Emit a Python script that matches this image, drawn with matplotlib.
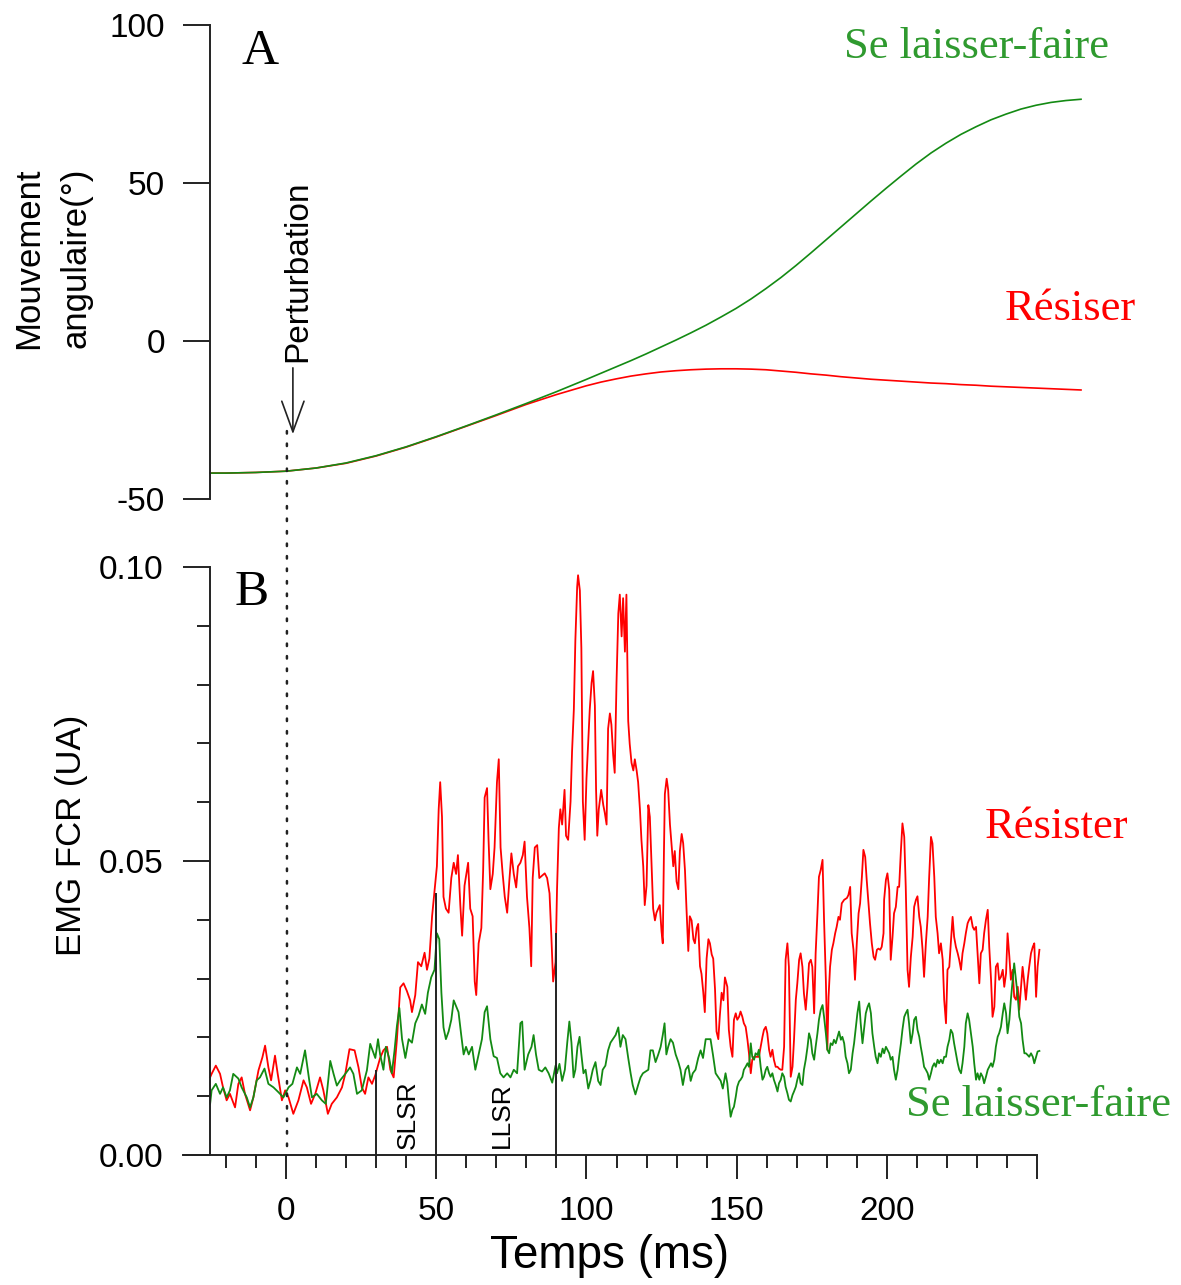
import matplotlib
matplotlib.use("Agg")
import matplotlib.pyplot as plt
from matplotlib.patches import ConnectionPatch
from matplotlib.ticker import FixedLocator

# ---------------------------------------------------------------- data
# panel A : angular movement (deg) vs time (ms)
ang_t = [-25.3, -20, -10, 0, 10, 20, 30, 40, 50, 60, 70, 80, 90, 100, 105, 110, 115,
         120, 125, 130, 135, 140, 145, 150, 155, 160, 165, 170, 175, 180, 185, 190,
         195, 200, 205, 210, 215, 220, 225, 230, 235, 240, 245, 250, 255, 260, 265]
ang_laisser = [-41.8, -41.8, -41.6, -41.2, -40.2, -38.6, -36.3, -33.5, -30.3, -26.9,
               -23.4, -19.8, -16.1, -12.2, -10.2, -8.2, -6.2, -4.1, -1.9, 0.3, 2.6,
               5.0, 7.6, 10.3, 13.3, 16.6, 20.1, 23.9, 27.9, 32.0, 36.1, 40.2, 44.3,
               48.3, 52.2, 56.0, 59.5, 62.6, 65.4, 67.8, 70.0, 71.8, 73.4, 74.6, 75.5,
               76.1, 76.5]
ang_resister = [-41.8, -41.8, -41.6, -41.2, -40.2, -38.7, -36.4, -33.6, -30.4, -27.0,
                -23.6, -20.1, -17.0, -14.2, -13.0, -12.0, -11.1, -10.4, -9.8, -9.4,
                -9.1, -8.9, -8.8, -8.8, -8.9, -9.1, -9.5, -9.9, -10.4, -10.8, -11.3,
                -11.7, -12.1, -12.4, -12.7, -13.0, -13.3, -13.5, -13.8, -14.0, -14.3,
                -14.5, -14.7, -14.9, -15.1, -15.3, -15.5]

# panel B : EMG FCR (UA)
emg_r_t = [-25.3, -24.8, -23.4, -22, -21, -19.8, -18.7, -17, -15.9, -14.8, -13.7, -12,
           -10.9, -9.2, -7.9, -7, -5.9, -5, -3.7, -2.8, -1.4, -0.3, 0.8, 2.4, 4.1, 5.8,
           6.9, 8.3, 9.7, 11.3, 12.4, 13.9, 15.2, 16.9, 18.6, 19.7, 21.1, 22.8, 24.1,
           25.2, 26.3, 27.4, 28.6,
           29.7, 31.3, 32.4, 33.6, 34.7, 35.8, 36.9, 38, 39.1, 40.2, 41.3, 41.9, 43,
           43.9, 45, 46.1, 46.9, 47.7, 48.6, 49.4, 50.2, 50.8, 51.3, 51.9, 52.4, 53.2,
           54.1, 55, 55.8, 56.6, 57.2, 58, 58.6, 59.4, 60.6, 61.3, 62.1, 62.8, 63.3,
           64.1, 65, 65.6, 66.1, 66.9, 67.4, 68, 68.8, 69.4, 70.2, 70.8, 71.4, 72.1,
           72.8, 73.6, 74.3, 75, 75.8, 76.6, 77.2, 78, 78.8, 79.4, 80.2, 81, 81.6,
           82.1, 82.8, 83.6, 84.3, 85.2, 86.1, 86.9, 87.7, 88.3, 88.9, 89.7,
           90.2, 90.8, 91.3, 91.9, 92.7, 93.2, 93.9, 94.7, 95.2, 95.8, 96.3, 96.9,
           97.2, 97.8, 98.3, 98.8, 99.4, 100, 100.6, 101.1, 101.7, 102.2, 102.8,
           103.2, 103.6, 104.1, 104.9, 105.6, 106.1, 106.7, 107.2, 107.8, 108.3,
           108.9, 109.4, 110, 110.6, 111.1, 111.7, 112.2, 112.8, 113.3, 113.9, 114.4,
           115, 115.6, 116.1, 116.7, 117.2, 117.8, 118.3, 118.9, 119.4, 120, 120.6,
           121.1, 121.7, 122.2, 122.8, 123.3, 123.9, 124.4, 125, 125.4, 125.8, 126.1,
           126.7, 127.2, 127.8, 128.3, 128.9, 129.4, 130, 130.6, 131.1, 131.7, 132.2,
           132.8, 133.3, 133.9, 134.4, 135, 135.6, 136.1, 136.7, 137.2, 137.8, 138.3,
           138.9, 139.4, 140, 140.6, 141.1, 141.7, 142.2, 142.8, 143.3, 143.9, 144.4,
           145, 145.6, 146.1,
           146.9, 147.4, 148, 148.6, 149.1, 149.7, 150.2, 150.8, 151.3, 151.9, 152.4,
           153, 153.6, 154.1, 154.7, 155.2, 155.8, 156.3, 156.9, 157.4, 158, 158.6,
           159.1, 159.7, 160.2, 160.8, 161.3, 161.9, 162.4, 163, 163.6, 164.1, 164.7,
           165.2, 165.8, 166.3, 166.9, 167.4, 168, 168.6, 169.1, 169.7, 170.2, 170.8,
           171.3, 171.9, 172.4, 173, 173.6, 174.1, 174.7, 175.2, 175.8, 176.3, 176.9,
           177.4, 178, 178.6, 179.1, 179.7, 180.2, 180.6, 181.1, 181.7, 182.2, 182.8,
           183.3, 183.9, 184.4, 185, 185.8, 186.7, 187.2, 187.8, 188.3, 188.9, 189.4,
           190, 190.6, 191.1, 191.7, 192.2, 192.8, 193.3, 193.9, 194.4, 195, 195.6,
           196.1, 196.7, 197.2, 197.8, 198.3, 198.9,
           199.1, 199.7, 200.2, 200.8, 201.3, 201.9, 202.4, 203, 203.6, 204.1, 204.7,
           205.2, 205.8, 206.3, 206.9, 207.4, 208, 208.6, 209.1, 209.7, 210.2, 210.8,
           211.3, 211.9, 212.4, 213, 213.6, 214.1, 214.7, 215.2, 215.8, 216.3, 216.9,
           217.4, 218, 218.6, 219.1, 219.7, 220.2, 220.8, 221.3, 221.9, 222.4, 223,
           223.6, 224.1, 224.7, 225.2, 225.8, 226.3, 226.9, 227.4, 228, 228.6, 229.1,
           229.7, 230.2, 230.8, 231.3, 231.9, 232.4, 233, 233.6, 234.1, 234.7, 235.2,
           235.8, 236.3, 236.9, 237.4, 238, 238.6, 239.1, 239.7, 240.2, 240.8, 241.3,
           241.9, 242.4, 243, 243.6, 244.1, 244.7, 245.2, 245.8, 246.3, 246.9, 247.4,
           248, 248.6, 249.1, 249.7, 250.2, 250.8]
emg_resister = [.0132, .0138, .0152, .0138, .0115, .0093, .0104, .0081, .0121, .0132,
                .0104, .0076, .0098, .0144, .0166, .0186, .0149, .0127, .0169, .0138,
                .0093, .0110, .0098, .0070, .0093, .0127, .0115, .0087, .0104, .0132,
                .0110, .0070, .0087, .0098, .0115, .0138, .0180, .0178, .0149, .0115,
                .0104, .0132, .0121,
                .0136, .0165, .0178, .0184, .0145, .0132, .0197, .0285, .0292, .0279,
                .0263, .0243, .0272, .0328, .0321, .0344, .0315, .0334, .0406, .0448,
                .0491, .0588, .0634, .0575, .0439, .0419, .0412, .0471, .0497, .0478,
                .0510, .0425, .0373, .0458, .0497, .0419, .0406, .0295, .0272, .0360,
                .0386, .0484, .0608, .0624, .0536, .0452, .0478, .0523, .0634, .0673,
                .0523, .0478, .0439, .0412, .0465, .0513, .0478, .0455, .0491, .0497,
                .0510, .0533, .0439, .0386, .0321, .0471, .0523, .0527, .0471, .0475,
                .0479, .0471, .0445, .0373, .0295, .0328,
                .0452, .0556, .0588, .0562, .0621, .0543, .0536, .0601, .0686, .0758,
                .0875, .0966, .0986, .0960, .0862, .0601, .0536, .0640, .0706, .0758,
                .0803, .0823, .0764, .0621, .0543, .0588, .0621, .0595, .0582, .0562,
                .0725, .0751, .0732, .0680, .0650, .0803, .0921, .0953, .0882, .0947,
                .0856, .0953, .0738, .0699, .0667, .0654, .0673, .0654, .0634, .0588,
                .0536, .0491, .0425, .0458, .0595, .0575, .0491, .0419, .0399, .0412,
                .0419, .0425, .0380, .0360, .0517, .0614, .0640, .0621, .0562, .0530,
                .0491, .0517, .0465, .0452, .0517, .0546, .0530, .0484, .0419, .0347,
                .0406, .0399, .0367, .0360, .0386, .0393, .0321, .0308, .0276, .0243,
                .0334, .0367, .0360, .0341, .0334, .0282, .0210, .0197, .0237, .0276,
                .0263, .0302,
                .0286, .0213, .0184, .0167, .0230, .0241, .0230, .0235, .0244, .0235,
                .0224, .0218, .0196, .0173, .0139, .0162, .0167, .0167, .0167, .0167,
                .0184, .0201, .0213, .0218, .0207, .0179, .0167, .0179, .0162, .0150,
                .0150, .0147, .0145, .0145, .0184, .0332, .0360, .0320, .0133, .0150,
                .0196, .0264, .0292, .0332, .0343, .0320, .0275, .0247, .0286, .0326,
                .0332, .0320, .0241, .0343, .0411, .0473, .0485, .0502, .0400, .0298,
                .0179, .0269, .0320, .0349, .0360, .0377, .0388, .0405, .0400, .0428,
                .0434, .0437, .0442, .0456, .0377, .0349, .0298, .0360, .0411, .0428,
                .0473, .0519, .0507, .0468, .0428, .0394, .0360, .0337, .0332, .0349,
                .0351, .0349, .0354, .0377,
                .0434, .0468, .0479, .0451, .0332, .0371, .0411, .0422, .0456, .0456,
                .0519, .0564, .0541, .0456, .0315, .0286, .0337, .0371, .0422, .0434,
                .0440, .0405, .0388, .0349, .0303, .0360, .0405, .0473, .0541, .0530,
                .0473, .0405, .0377, .0343, .0360, .0332, .0264, .0224, .0315, .0320,
                .0360, .0405, .0371, .0354, .0343, .0332, .0315, .0343, .0360, .0377,
                .0394, .0400, .0405, .0388, .0383, .0388, .0343, .0292, .0343, .0349,
                .0377, .0400, .0417, .0354, .0298, .0235, .0252, .0320, .0326, .0298,
                .0303, .0315, .0286, .0309, .0377, .0337, .0298, .0315, .0269, .0264,
                .0286, .0247, .0286, .0320, .0292, .0264, .0298, .0320, .0343, .0354,
                .0360, .0269, .0320, .0349]

emg_g_t = [-25.3, -24.8, -23.4, -22, -21, -19.8, -18.7, -17.6, -15.9, -14.8, -13.1, -12,
           -10.9, -9.8, -8.7, -7.2, -5.9, -4.2, -2.6, -0.9, 0.8, 2.1, 3.6, 4.7, 6.3,
           7.7, 8.6, 10.2, 11.9, 13.2, 14.7, 15.8, 16.9, 18, 19.7, 21.3, 22.4, 23.6,
           25.2, 26.9, 28,
           29.7, 30.6, 31.3, 32.4, 33.2, 34.3, 35.2, 36.1, 36.9, 37.7, 38.6, 39.7, 40.8,
           41.9, 43, 44.1, 45.2, 46.3, 47.2, 48.3, 49.4, 50.2, 51, 51.7, 52.4, 53.2,
           54.1, 55, 55.8, 56.6, 57.4, 58.3, 59.1, 59.9, 60.8, 61.9, 63, 64.1, 65.2,
           66.1, 66.9, 68, 69.1, 70.2, 71.3, 72.4, 73.6, 74.7, 75.8, 76.9, 78, 78.6,
           79.4, 80.6, 81.7, 82.4, 83.2, 84.1, 85.2, 86.3, 87.4, 88.6, 89.7,
           90.2, 91, 91.9, 92.8, 93.6, 94.3, 95, 95.7, 96.3, 97, 97.7, 98.3, 99, 99.7,
           100.6, 101.3, 102.1, 103, 103.9, 104.7, 105.4, 106.3, 107.2, 108, 108.8,
           109.7, 110.6, 111.3, 112.1, 113, 113.9, 114.7, 115.4, 116.3, 117.2, 118,
           118.8, 119.7, 120.6, 121.3, 122.1, 123, 123.9, 124.7, 125.4, 126, 126.6,
           127.2, 128, 128.8, 129.7, 130.6, 131.3, 132.1, 133, 133.9, 134.7, 135.4,
           136.3, 137.2, 138, 138.8, 139.7, 140.6, 141.3, 142.1, 143, 143.9, 144.7,
           145.4, 146.3,
           146.9, 147.4, 148, 148.6, 149.1, 149.7, 150.2, 150.8, 151.3, 151.9, 152.4,
           153, 153.6, 154.1, 154.7, 155.2, 155.8, 156.3, 156.9, 157.4, 158, 158.6,
           159.1, 159.7, 160.2, 160.8, 161.3, 161.9, 162.4, 163, 163.6, 164.1, 164.7,
           165.2, 165.8, 166.3, 166.9, 167.4, 168, 168.6, 169.1, 169.7, 170.2, 170.8,
           171.3, 171.9, 172.4, 173, 173.6, 174.1, 174.7, 175.2, 175.8, 176.3, 176.9,
           177.4, 178, 178.6, 179.1, 179.7, 180.2, 180.8, 181.3, 181.9, 182.4, 183,
           183.6, 184.1, 184.7, 185.2, 185.8, 186.3, 186.9, 187.4, 188, 188.6, 189.1,
           189.7, 190.2, 190.8, 191.3, 191.9, 192.4, 193, 193.6, 194.1, 194.7, 195.2,
           195.8, 196.3, 196.9, 197.4, 198, 198.6,
           199.1, 199.7, 200.2, 200.8, 201.3, 201.9, 202.4, 203, 203.6, 204.1, 204.7,
           205.2, 205.8, 206.3, 206.9, 207.4, 208, 208.6, 209.1, 209.7, 210.2, 210.8,
           211.3, 211.9, 212.4, 213, 213.6, 214.1, 214.7, 215.2, 215.8, 216.3, 216.9,
           217.4, 218, 218.6, 219.1, 219.7, 220.2, 220.8, 221.3, 221.9, 222.4, 223,
           223.6, 224.1, 224.7, 225.2, 225.8, 226.3, 226.9, 227.4, 228, 228.6, 229.1,
           229.7, 230.2, 230.8, 231.3, 231.9, 232.4, 233, 233.6, 234.1, 234.7, 235.2,
           235.8, 236.3, 236.9, 237.4, 238, 238.6, 239.1, 239.7, 240.2, 240.8, 241.3,
           241.9, 242.4, 243, 243.6, 244.1, 244.7, 245.2, 245.8, 246.3, 246.9, 247.4,
           248, 248.6, 249.1, 249.7, 250.2, 250.8]
emg_laisser = [.0087, .0110, .0121, .0104, .0115, .0098, .0110, .0138, .0130, .0115,
               .0098, .0081, .0098, .0127, .0132, .0147, .0121, .0115, .0107, .0098,
               .0115, .0121, .0149, .0138, .0178, .0127, .0098, .0104, .0093, .0087,
               .0160, .0138, .0118, .0127, .0138, .0149, .0138, .0104, .0110, .0144,
               .0189,
               .0165, .0197, .0171, .0145, .0184, .0165, .0139, .0178, .0220, .0250,
               .0197, .0165, .0197, .0191, .0224, .0237, .0256, .0240, .0276, .0302,
               .0315, .0377, .0367, .0276, .0217, .0197, .0210, .0230, .0263, .0253,
               .0243, .0204, .0171, .0184, .0171, .0184, .0145, .0171, .0197, .0243,
               .0253, .0197, .0168, .0165, .0139, .0132, .0139, .0132, .0145, .0139,
               .0224, .0227, .0145, .0171, .0184, .0204, .0171, .0145, .0142, .0149,
               .0139, .0123, .0152,
               .0139, .0155, .0126, .0145, .0191, .0227, .0191, .0132, .0145, .0184,
               .0201, .0171, .0139, .0145, .0113, .0126, .0145, .0158, .0126, .0119,
               .0145, .0152, .0178, .0191, .0197, .0204, .0217, .0184, .0204, .0197,
               .0165, .0139, .0119, .0103, .0119, .0132, .0139, .0142, .0145, .0178,
               .0178, .0158, .0171, .0184, .0204, .0224, .0171, .0184, .0197, .0191,
               .0171, .0158, .0145, .0119, .0145, .0152, .0126, .0139, .0145, .0165,
               .0178, .0165, .0197, .0197, .0197, .0171, .0139, .0132, .0126, .0113,
               .0139,
               .0122, .0094, .0065, .0077, .0082, .0099, .0116, .0125, .0128, .0133,
               .0145, .0150, .0156, .0150, .0190, .0167, .0162, .0173, .0170, .0179,
               .0150, .0128, .0133, .0145, .0150, .0139, .0133, .0139, .0128, .0119,
               .0108, .0122, .0128, .0139, .0133, .0116, .0105, .0094, .0091, .0102,
               .0108, .0116, .0128, .0139, .0122, .0119, .0145, .0162, .0184, .0207,
               .0196, .0173, .0162, .0184, .0207, .0230, .0247, .0255, .0235, .0207,
               .0179, .0173, .0190, .0187, .0196, .0190, .0201, .0210, .0196, .0201,
               .0190, .0167, .0156, .0139, .0145, .0173, .0190, .0218, .0241, .0261,
               .0224, .0190, .0213, .0241, .0252, .0258, .0241, .0207, .0184, .0167,
               .0156, .0173, .0167, .0181,
               .0173, .0184, .0179, .0173, .0162, .0167, .0145, .0128, .0145, .0167,
               .0190, .0213, .0235, .0241, .0247, .0224, .0190, .0207, .0230, .0235,
               .0213, .0201, .0184, .0167, .0150, .0145, .0139, .0128, .0139, .0150,
               .0156, .0150, .0162, .0156, .0162, .0156, .0167, .0167, .0184, .0196,
               .0213, .0207, .0190, .0173, .0156, .0145, .0139, .0156, .0184, .0224,
               .0241, .0230, .0207, .0184, .0156, .0128, .0139, .0128, .0139, .0133,
               .0122, .0133, .0145, .0150, .0156, .0150, .0162, .0184, .0201, .0207,
               .0218, .0241, .0258, .0241, .0207, .0230, .0264, .0298, .0326, .0298,
               .0269, .0235, .0224, .0196, .0173, .0173, .0170, .0167, .0173, .0167,
               .0156, .0167, .0176, .0177]

# reflex windows (ms) and the height the marker lines reach
marker_t = [30, 50, 90]
marker_top = [0.0145, 0.0445, 0.0377]
window_names = ["SLSR", "LLSR"]
window_mid = [40.5, 72.0]

perturb_t = 0.3

# ---------------------------------------------------------------- layout (pixels)
W, H = 1181, 1285
RED = "#ff0000"
GREEN = "#138a13"
GREEN_TXT = "#2f9a2f"
AXC = "#222222"
SANS = ["Liberation Sans", "DejaVu Sans"]
SERIF = ["Liberation Serif", "DejaVu Serif"]


def box(x0, y0, x1, y1):
    return [x0 / W, 1 - y1 / H, (x1 - x0) / W, (y1 - y0) / H]


plt.rcParams["font.family"] = SANS
plt.rcParams["axes.unicode_minus"] = False
fig = plt.figure(figsize=(W / 100, H / 100), dpi=100)

# ---------------------------------------------------------------- panel A
ax1 = fig.add_axes(box(183, 25, 1085, 499))
ax1.set_xlim(-34.33, 266.33)
ax1.set_ylim(-50, 100)
ax1.plot(ang_t, ang_resister, color=RED, lw=1.2)
ax1.plot(ang_t, ang_laisser, color=GREEN, lw=1.2)
for s in ["top", "right", "bottom"]:
    ax1.spines[s].set_visible(False)
ax1.spines["left"].set_position(("data", -25.33))
ax1.spines["left"].set_color(AXC)
ax1.spines["left"].set_linewidth(1.4)
ax1.set_xticks([])
ax1.set_yticks([-50, 0, 50, 100])
ax1.tick_params(axis="y", length=19.4, width=1.4, color=AXC, labelsize=24, pad=13)

ax1.annotate("", xy=(2.3, -29.5), xytext=(2.3, -8.5),
             arrowprops=dict(arrowstyle="->,head_length=2.2,head_width=0.8",
                             lw=1.2, color=AXC, shrinkA=0, shrinkB=0))
ax1.text(3.8, -6.5, "Perturbation", rotation=90, ha="center", va="bottom", fontsize=24)

# ---------------------------------------------------------------- panel B
ax2 = fig.add_axes(box(183, 567, 1037, 1155))
ax2.set_xlim(-34.33, 250)
ax2.set_ylim(0, 0.10)
ax2.plot(emg_r_t, emg_resister, color=RED, lw=1.3, clip_on=False)
ax2.plot(emg_g_t, emg_laisser, color=GREEN, lw=1.3, clip_on=False)
ax2.vlines(marker_t, 0, marker_top, color=AXC, lw=1.4)
for name, tm in zip(window_names, window_mid):
    ax2.text(tm, 0.0068, name, rotation=90, ha="center", va="center", fontsize=19)

for s in ["top", "right"]:
    ax2.spines[s].set_visible(False)
ax2.spines["left"].set_position(("data", -25.33))
for s in ["left", "bottom"]:
    ax2.spines[s].set_color(AXC)
    ax2.spines[s].set_linewidth(1.4)

ax2.set_yticks([0, 0.05, 0.10])
ax2.set_yticklabels(["0.00", "0.05", "0.10"])
ax2.yaxis.set_minor_locator(FixedLocator([0.01, 0.02, 0.03, 0.04, 0.06, 0.07, 0.08, 0.09]))
ax2.set_xticks([0, 50, 100, 150, 200, 250])
ax2.set_xticklabels(["0", "50", "100", "150", "200", ""])
ax2.xaxis.set_minor_locator(FixedLocator([t for t in range(-20, 250, 10) if t % 50]))
ax2.tick_params(axis="y", which="major", length=19.4, width=1.4, color=AXC,
                labelsize=24, pad=14)
ax2.tick_params(axis="y", which="minor", length=9.4, width=1.4, color=AXC)
ax2.tick_params(axis="x", which="major", length=17.3, width=1.4, color=AXC,
                labelsize=24, pad=12)
ax2.tick_params(axis="x", which="minor", length=9.4, width=1.4, color=AXC)
ax2.set_xlabel("Temps (ms)", fontsize=33, labelpad=5)

# perturbation onset, dotted through both panels
con = ConnectionPatch(xyA=(perturb_t, -28.5), coordsA=ax1.transData,
                      xyB=(perturb_t, 0), coordsB=ax2.transData,
                      linestyle=(0, (1, 4)), lw=1.8, color=AXC)
fig.add_artist(con)

# ---------------------------------------------------------------- labels
fig.text(52 / W, 1 - 258 / H, "Mouvement\nangulaire(°)", rotation=90,
         ha="center", va="center", fontsize=25, linespacing=1.55, multialignment="center")
fig.text(71 / W, 1 - 835 / H, "EMG FCR (UA)", rotation=90, ha="center", va="center",
         fontsize=25)

fig.text(260 / W, 1 - 52 / H, "A", family=SERIF, fontsize=37, ha="center", va="center")
fig.text(252 / W, 1 - 593 / H, "B", family=SERIF, fontsize=37, ha="center", va="center")
fig.text(977 / W, 1 - 47 / H, "Se laisser-faire", family=SERIF, fontsize=32,
         color=GREEN_TXT, ha="center", va="center")
fig.text(1070 / W, 1 - 309 / H, "Résiser", family=SERIF, fontsize=32, color=RED,
         ha="center", va="center")
fig.text(1057 / W, 1 - 827 / H, "Résister", family=SERIF, fontsize=32, color=RED,
         ha="center", va="center")
fig.text(1038 / W, 1 - 1105 / H, "Se laisser-faire", family=SERIF, fontsize=32,
         color=GREEN_TXT, ha="center", va="center")

fig.savefig("out.png", dpi=100)
